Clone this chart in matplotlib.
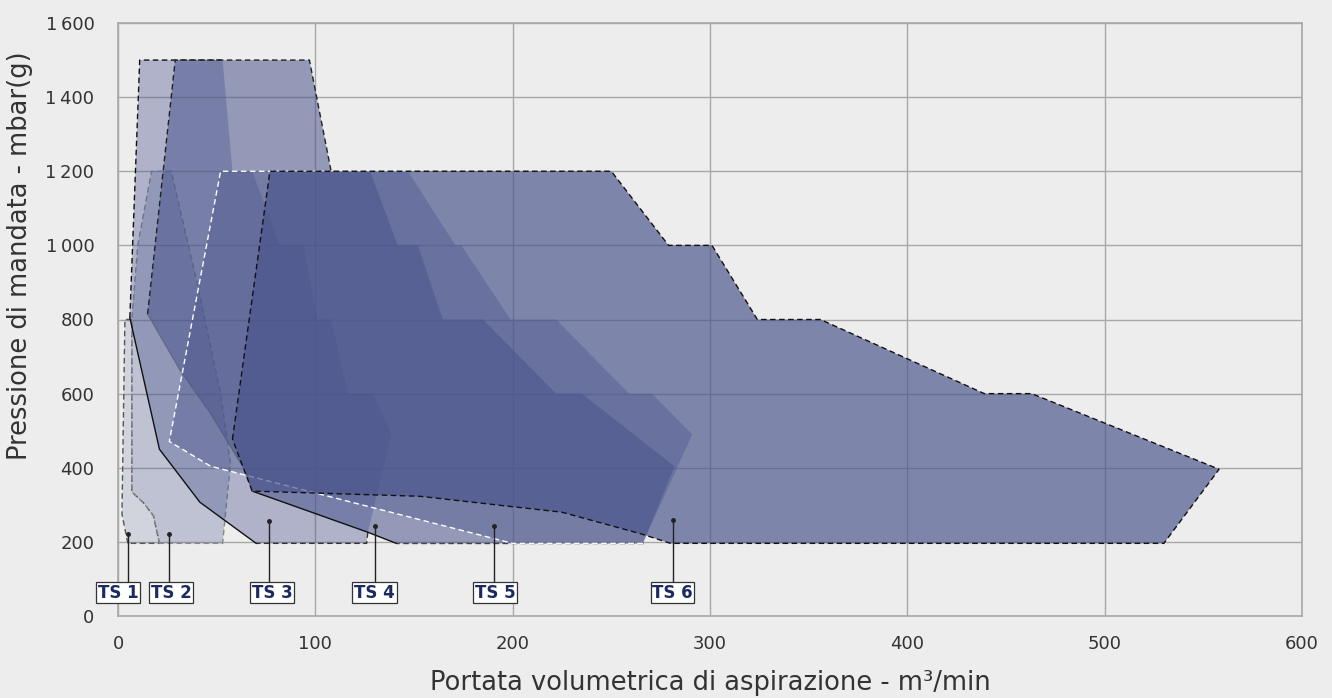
import matplotlib
matplotlib.use("Agg")
import matplotlib.pyplot as plt
from matplotlib.patches import Polygon

plt.rcParams['font.family'] = ['DejaVu Sans']

# ---------------- data ----------------
series_names = ["TS 1", "TS 2", "TS 3", "TS 4", "TS 5", "TS 6"]

ts1_x = [5, 2, 3.5, 7, 7, 13, 18, 21]
ts1_y = [196, 275, 800, 800, 335, 305, 270, 196]

ts2_x = [21, 18, 13, 7, 7, 10, 17, 27, 40, 52, 57, 53]
ts2_y = [196, 270, 305, 335, 800, 1000, 1200, 1200, 900, 600, 412, 196]

ts3_x = [21, 6, 11, 53, 58, 68, 82, 94, 101, 108, 116.5, 129, 138.6, 126.6, 126, 70, 41.5]
ts3_y = [450, 805, 1500, 1500, 1200, 1200, 1000, 1000, 800, 800, 600, 600, 490, 226, 196, 196, 307]

ts4_x = [15, 29, 97, 108, 127.7, 141.8, 152, 164.6, 185, 222, 235, 282, 266, 141, 126.6, 68, 65, 46.6, 31.4]
ts4_y = [815, 1500, 1500, 1200, 1200, 1000, 1000, 800, 800, 600, 600, 404, 196, 196, 226, 337, 388, 549, 664]

ts5_x = [26, 52, 147, 171, 174, 199, 222, 259, 270.5, 291, 266, 200, 47]
ts5_y = [471, 1200, 1200, 1000, 1000, 800, 800, 600, 600, 490, 196, 196, 404]

ts6_x = [58, 77, 250, 279, 301, 324, 356, 439, 463, 558, 530, 280, 265.5, 225, 153, 68]
ts6_y = [477, 1200, 1200, 1000, 1000, 800, 800, 600, 600, 396, 196, 196, 221, 280, 323, 337]

label_x = [0, 27, 78, 130, 191, 281]
pointer_x = [5, 26, 76.5, 130, 190.5, 281]
pointer_y = [221, 221, 256, 243, 243, 258]
label_y = 63

x_ticks = [0, 100, 200, 300, 400, 500, 600]
y_ticks = [0, 200, 400, 600, 800, 1000, 1200, 1400, 1600]
y_tick_labels = ["0", "200", "400", "600", "800", "1\u2009000", "1\u2009200", "1\u2009400", "1\u2009600"]

# ---------------- style ----------------
bg = "#ededed"
base = (74/255, 84/255, 140/255)
alphas = [0.16, 0.28, 0.38, 0.55, 0.40, 0.68]
dash = (0, (4, 2.5))
# visible outline pieces: (vertex order, colour, linestyle); None = full closed dashed outline
outline_pieces = [
    [(None, "#555555", dash)],
    [(None, "#888888", dash)],
    [([13, 14, 15], "#333333", dash), ([15, 16, 0, 1], "#111111", "-"),
     ([1, 2, 3], "#111111", dash)],
    [([12, 13], "#444444", dash), ([13, 14, 15], "#111111", "-"),
     ([15, 16, 17, 18, 0], "#666a80", "-"), ([0, 1, 2, 3], "#222222", dash)],
    [([10, 11, 12, 0, 1, 2], "#ffffff", dash)],
    [(None, "#111111", dash)],
]

fig = plt.figure(figsize=(13.32, 6.98), dpi=100, facecolor=bg)
ax = fig.add_axes([118/1332, 1 - 616/698, (1302-118)/1332, (616-23)/698])
ax.set_facecolor(bg)

polys = [(ts1_x, ts1_y), (ts2_x, ts2_y), (ts3_x, ts3_y),
         (ts4_x, ts4_y), (ts5_x, ts5_y), (ts6_x, ts6_y)]
for i, (xs, ys) in enumerate(polys):
    pts = list(zip(xs, ys))
    ax.add_patch(Polygon(pts, closed=True, facecolor=base + (alphas[i],),
                         edgecolor="none", zorder=2 + i))
    for idx, col, ls in outline_pieces[i]:
        if idx is None:
            ax.add_patch(Polygon(pts, closed=True, fill=False, edgecolor=col,
                                 linewidth=1.0, linestyle=ls, zorder=2 + i))
        else:
            ax.plot([xs[k] for k in idx], [ys[k] for k in idx], color=col,
                    lw=1.0, linestyle=ls, zorder=2 + i)

ax.set_xlim(0, 600)
ax.set_ylim(0, 1600)
ax.set_xticks(x_ticks)
ax.set_yticks(y_ticks)
ax.set_yticklabels(y_tick_labels)
ax.tick_params(length=0, labelsize=13, colors="#333333")
ax.tick_params(axis="y", pad=17)
ax.tick_params(axis="x", pad=14)
ax.grid(True, color="#a8a8a8", linewidth=1.0, zorder=0)
ax.set_axisbelow(True)
for s in ax.spines.values():
    s.set_color("#a8a8a8")
    s.set_linewidth(1.2)

ax.set_xlabel("Portata volumetrica di aspirazione - m\u00b3/min", fontsize=18.5,
              color="#333333", labelpad=12)
ax.set_ylabel("Pressione di mandata - mbar(g)", fontsize=18.5, color="#333333")
ax.yaxis.set_label_coords(-0.072, 0.607)

for name, lx, px, py in zip(series_names, label_x, pointer_x, pointer_y):
    ax.plot([px, px], [label_y + 25, py], color="#222222", lw=1.0, zorder=20,
            clip_on=False)
    ax.plot([px], [py], 'o', color="#222222", ms=2.5, zorder=21, clip_on=False)
    ax.text(lx, label_y, name, ha="center", va="center", fontsize=12,
            fontweight="bold", color="#1b2a60", zorder=22, clip_on=False,
            bbox=dict(boxstyle="square,pad=0.1", facecolor="white",
                      edgecolor="#333333", linewidth=0.9))

fig.savefig("out.png", dpi=100, facecolor=bg)
